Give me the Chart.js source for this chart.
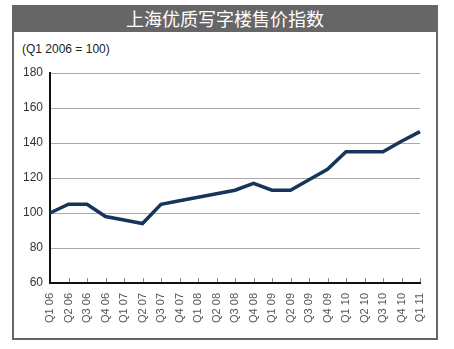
<!DOCTYPE html>
<html>
<head>
<meta charset="utf-8">
<script src="https://cdn.jsdelivr.net/npm/chart.js@4/dist/chart.umd.min.js"></script>
<style>
  html, body { margin: 0; padding: 0; background: #fff; }
  body { width: 454px; height: 349px; position: relative; overflow: hidden; font-family: "Liberation Sans", Arial, sans-serif; }
  .frame { position: absolute; left: 12px; top: 5px; width: 422px; height: 331px; border: 2px solid #666; background: #fff; }
  .title { position: absolute; left: 12px; top: 5px; width: 426px; height: 27px; background: #666; color: #fff;
           font-family: "Noto Sans CJK SC", sans-serif; font-size: 18px; line-height: 27px; text-align: center; }
  .sub { position: absolute; left: 22px; top: 42px; font-size: 12px; color: #222; }
  #chart { position: absolute; left: 0; top: 0; }
</style>
</head>
<body>
<div class="frame"></div>
<div class="title">上海优质写字楼售价指数</div>
<div class="sub">(Q1 2006 = 100)</div>
<canvas id="chart" width="454" height="349"></canvas>
<script>
// 季度标签
const quarters = ['Q1 06','Q2 06','Q3 06','Q4 06','Q1 07','Q2 07','Q3 07','Q4 07','Q1 08','Q2 08','Q3 08',
                  'Q4 08','Q1 09','Q2 09','Q3 09','Q4 09','Q1 10','Q2 10','Q3 10','Q4 10','Q1 11'];
// 指数 (Q1 2006 = 100)
const indexValues = [100, 105, 105, 98, 96, 94, 105, 107, 109, 111, 113,
                     117, 113, 113, 119, 125, 135, 135, 135, 141, 146.5];
const yTicks = [60, 80, 100, 120, 140, 160, 180];

// 底轴上的小刻度
const tickMarks = {
  id: 'tickMarks',
  afterDraw(chart) {
    const x = chart.scales.x, ctx = chart.ctx, bottom = chart.chartArea.bottom;
    ctx.save();
    ctx.strokeStyle = '#888';
    ctx.lineWidth = 1;
    quarters.forEach((q, i) => {
      if (i === 0) return;
      const px = Math.round(x.getPixelForTick(i)) + 0.5;
      ctx.beginPath();
      ctx.moveTo(px, bottom - 1);
      ctx.lineTo(px, bottom - 5);
      ctx.stroke();
    });
    ctx.restore();
  }
};

new Chart(document.getElementById('chart'), {
  type: 'line',
  data: {
    labels: quarters,
    datasets: [{
      data: indexValues,
      borderColor: '#163659',
      borderWidth: 3.5,
      pointRadius: 0,
      tension: 0,
      fill: false
    }]
  },
  options: {
    responsive: false,
    animation: false,
    layout: { padding: { left: 0, top: 73, right: 34, bottom: 16 } },
    plugins: { legend: { display: false }, tooltip: { enabled: false } },
    scales: {
      x: {
        offset: false,
        grid: { display: false, drawTicks: false },
        border: { display: true, color: '#111', width: 2 },
        ticks: {
          autoSkip: false, maxRotation: 90, minRotation: 90, padding: 10,
          color: '#555', font: { family: 'Liberation Sans', size: 11 }
        },
        afterFit(s) { s.height = 50; }
      },
      y: {
        min: 60, max: 180,
        afterBuildTicks(s) { s.ticks = yTicks.map(v => ({ value: v })); },
        grid: { color: '#aaa', lineWidth: 1, drawTicks: false },
        border: { display: true, color: '#111', width: 2 },
        ticks: { padding: 7, color: '#333', font: { family: 'Liberation Sans', size: 12 } },
        afterFit(s) { s.width = 50; }
      }
    }
  },
  plugins: [tickMarks]
});
</script>
</body>
</html>
